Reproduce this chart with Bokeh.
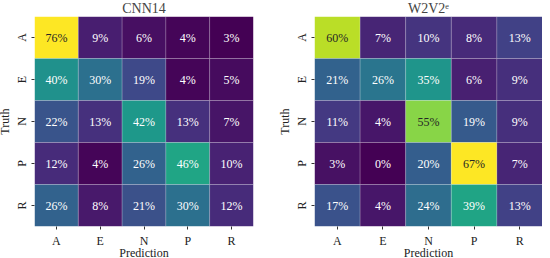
from bokeh.plotting import figure
from bokeh.layouts import row
from bokeh.models import ColumnDataSource, LinearColorMapper
from bokeh.palettes import Viridis256
from bokeh.embed import file_html
from bokeh.resources import INLINE
from bokeh.core.properties import value

labels = ["A", "E", "N", "P", "R"]
cnn14 = [[76, 9, 6, 4, 3],
         [40, 30, 19, 4, 5],
         [22, 13, 42, 13, 7],
         [12, 4, 26, 46, 10],
         [26, 8, 21, 30, 12]]
w2v2 = [[60, 7, 10, 8, 13],
        [21, 26, 35, 6, 9],
        [11, 4, 55, 19, 9],
        [3, 0, 20, 67, 7],
        [17, 4, 24, 39, 13]]

FONT = "Liberation Serif"


def make(mat, title, width, left, right):
    flat = [v for r in mat for v in r]
    lo, hi = min(flat), max(flat)
    xs, ys, vals, txt, tcol = [], [], [], [], []
    for i, truth in enumerate(labels):
        for j, pred in enumerate(labels):
            v = mat[i][j]
            xs.append(pred)
            ys.append(truth)
            vals.append(v)
            txt.append(f"{v}%")
            tcol.append("#262626" if (v - lo) / (hi - lo) > 0.7 else "white")
    src = ColumnDataSource(dict(x=xs, y=ys, v=vals, t=txt, c=tcol))
    mapper = LinearColorMapper(palette=Viridis256, low=lo, high=hi)
    p = figure(width=width, height=270, x_range=labels, y_range=labels[::-1],
               output_backend="svg", toolbar_location=None,
               min_border_left=left, min_border_right=right,
               min_border_top=24, min_border_bottom=26)
    p.rect(x="x", y="y", width=1, height=1, source=src,
           fill_color={"field": "v", "transform": mapper},
           line_color="white", line_alpha=0.18, line_width=1)
    p.text(x="x", y="y", text="t", source=src, text_color="c",
           text_align="center", text_baseline="middle",
           text_font=value(FONT), text_font_size="12px")
    p.title.text = title
    p.title.align = "center"
    p.title.text_font = FONT
    p.title.text_font_style = "normal"
    p.title.text_font_size = "14px"
    p.title.standoff = 1
    p.outline_line_color = None
    p.grid.grid_line_color = None
    for ax in (p.xaxis[0], p.yaxis[0]):
        ax.axis_line_color = None
        ax.major_tick_line_color = "#333333"
        ax.major_tick_out = 3
        ax.major_tick_in = 0
        ax.minor_tick_line_color = None
        ax.major_label_text_font = FONT
        ax.major_label_text_font_size = "12px"
        ax.major_label_text_color = "#222222"
        ax.axis_label_text_font = FONT
        ax.axis_label_text_font_style = "normal"
        ax.axis_label_text_font_size = "12px"
        ax.axis_label_text_color = "#222222"
    p.xaxis.major_label_standoff = 4
    p.xaxis.axis_label = "Prediction"
    p.xaxis.axis_label_standoff = -5
    p.yaxis.major_label_standoff = 3
    p.yaxis.axis_label = "Truth"
    p.yaxis.axis_label_standoff = 0
    p.yaxis.major_label_orientation = "vertical"
    p.x_range.range_padding = 0
    p.y_range.range_padding = 0
    return p


p1 = make(cnn14, "CNN14", 273, 30, 14)
p2 = make(w2v2, "W2V2\u1d49", 275, 47, 0)
layout = row(p1, p2, styles={"margin-left": "-6px", "margin-top": "-8px",
                             "margin-bottom": "-40px"})

open("out.html", "w").write(file_html(layout, INLINE))
